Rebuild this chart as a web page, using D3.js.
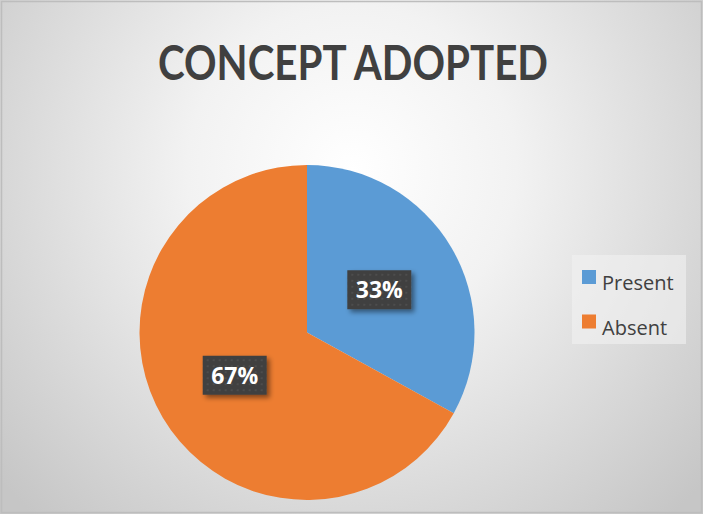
<!DOCTYPE html>
<html>
<head>
<meta charset="utf-8">
<script src="https://cdn.jsdelivr.net/npm/d3@7"></script>
<style>
  html, body { margin: 0; padding: 0; background: #fff; }
  svg { display: block; }
</style>
</head>
<body>
<svg id="chart" width="703" height="514"></svg>
<script>
// ---- data ----
const title = "CONCEPT ADOPTED";
const categories = ["Present", "Absent"];
const values = [33, 67];
const colors = ["#5B9BD5", "#ED7D31"];

const W = 703, H = 514;
const svg = d3.select("#chart");
const defs = svg.append("defs");

// background radial gradient
const bg = defs.append("radialGradient").attr("id", "bg")
  .attr("gradientUnits", "userSpaceOnUse")
  .attr("cx", 352).attr("cy", 170).attr("r", 470);
bg.append("stop").attr("offset", "0%").attr("stop-color", "#ffffff");
bg.append("stop").attr("offset", "35%").attr("stop-color", "#f2f2f2");
bg.append("stop").attr("offset", "100%").attr("stop-color", "#c6c6c6");

// dotted dark pattern for data labels
const pat = defs.append("pattern").attr("id", "dots")
  .attr("patternUnits", "userSpaceOnUse").attr("width", 6).attr("height", 6);
pat.append("rect").attr("width", 6).attr("height", 6).attr("fill", "#404040");
pat.append("rect").attr("x", 2).attr("y", 2).attr("width", 2).attr("height", 2).attr("fill", "#4d4d4d");

const shadow = defs.append("filter").attr("id", "shadow")
  .attr("x", "-30%").attr("y", "-30%").attr("width", "160%").attr("height", "160%");
shadow.append("feDropShadow").attr("dx", 3).attr("dy", 3).attr("stdDeviation", 2.5)
  .attr("flood-color", "#000").attr("flood-opacity", 0.45);

svg.append("rect").attr("x", 0).attr("y", 0).attr("width", W).attr("height", H)
  .attr("fill", "url(#bg)");
svg.append("rect").attr("x", 1.5).attr("y", 1.5).attr("width", W - 3).attr("height", H - 3)
  .attr("fill", "none").attr("stroke", "#bdbdbd").attr("stroke-width", 1.5);

// title
svg.append("text").attr("x", 353).attr("y", 80)
  .attr("text-anchor", "middle")
  .attr("font-family", "Lato, 'Open Sans', sans-serif").attr("font-weight", 700)
  .attr("font-size", 47).attr("fill", "#404040")
  .attr("textLength", 390).attr("lengthAdjust", "spacingAndGlyphs")
  .text(title);

// pie
const cx = 307, cy = 332.5, R = 167.5;
const pie = d3.pie().sort(null).value(d => d)(values);
const arc = d3.arc().innerRadius(0).outerRadius(R);
const labelArc = d3.arc().innerRadius(84).outerRadius(84);

const g = svg.append("g").attr("transform", `translate(${cx},${cy})`);
g.selectAll("path.slice").data(pie).join("path")
  .attr("class", "slice")
  .attr("d", arc)
  .attr("fill", (d, i) => colors[i]);

// data labels
const bw = 64, bh = 39;
const lab = g.selectAll("g.lab").data(pie).join("g").attr("class", "lab")
  .attr("transform", d => { const c = labelArc.centroid(d); return `translate(${c[0]},${c[1]})`; });
lab.append("rect").attr("x", -bw / 2).attr("y", -bh / 2).attr("width", bw).attr("height", bh)
  .attr("fill", "url(#dots)").attr("filter", "url(#shadow)");
lab.append("text").attr("text-anchor", "middle").attr("y", 8.5)
  .attr("font-family", "'Open Sans', sans-serif").attr("font-weight", 700)
  .attr("font-size", 23).attr("fill", "#ffffff")
  .text(d => d.data + "%");

// legend
const lg = svg.append("g");
lg.append("rect").attr("x", 572).attr("y", 255).attr("width", 114).attr("height", 89)
  .attr("fill", "#f2f2f2").attr("fill-opacity", 0.6);
const items = lg.selectAll("g.item").data(categories).join("g").attr("class", "item")
  .attr("transform", (d, i) => `translate(582,${270 + i * 44.5})`);
items.append("rect").attr("width", 14).attr("height", 14).attr("fill", (d, i) => colors[i]);
items.append("text").attr("x", 20).attr("y", 20)
  .attr("font-family", "'Open Sans', sans-serif").attr("font-size", 20).attr("fill", "#404040")
  .text(d => d);
</script>
</body>
</html>
